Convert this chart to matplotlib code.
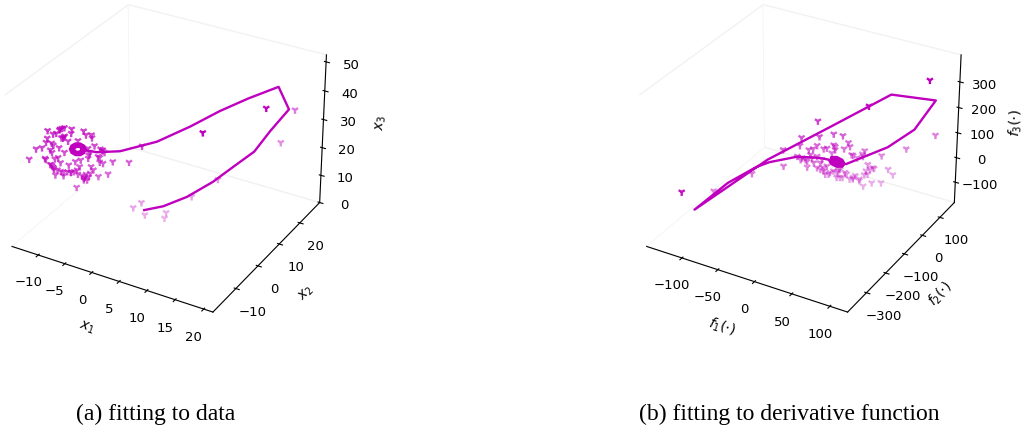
import matplotlib
matplotlib.use('Agg')
import matplotlib.pyplot as plt

# trajectory in state space, then the spiral onto the fixed point
line_x = [0.0, 2.5, 5.6, 9.0, 11.6, 14.6, 16.6, 19.2, 18.3, 15.0, 12.0, 8.3, 3.8, -1.5, -5.1, -6.8,
          -6.8, -6.99, -7.49, -8.11, -8.61, -8.8, -8.61, -8.11, -7.49, -6.99,
          -6.93, -7.09, -7.53, -8.07, -8.51, -8.68, -8.51, -8.07, -7.53, -7.09,
          -7.05, -7.19, -7.57, -8.03, -8.41, -8.55, -8.41, -8.03, -7.57, -7.19,
          -7.18, -7.29, -7.61, -7.99, -8.31, -8.43, -8.31, -7.99, -7.61, -7.29,
          -7.33, -7.42, -7.65, -7.95, -8.18, -8.28, -8.18, -7.95, -7.65, -7.42]
line_y = [2.0, 4.5, 7.6, 11.0, 13.6, 15.6, 17.6, 19.2, 16.3, 11.0, 6.0, 2.3, -1.2, -4.5, -6.1, -6.8,
          -6.8, -6.99, -7.49, -8.11, -8.61, -8.8, -8.61, -8.11, -7.49, -6.99,
          -6.93, -7.09, -7.53, -8.07, -8.51, -8.68, -8.51, -8.07, -7.53, -7.09,
          -7.05, -7.19, -7.57, -8.03, -8.41, -8.55, -8.41, -8.03, -7.57, -7.19,
          -7.18, -7.29, -7.61, -7.99, -8.31, -8.43, -8.31, -7.99, -7.61, -7.29,
          -7.33, -7.42, -7.65, -7.95, -8.18, -8.28, -8.18, -7.95, -7.65, -7.42]
line_z = [5.4, 6.4, 9.3, 14.2, 19.1, 24.8, 31.7, 39.5, 48.6, 46.4, 43.9, 39.2, 34.0, 30.1, 28.9, 29.1,
          29.45, 30.7, 31.54, 31.65, 30.95, 29.75, 28.5, 27.65, 27.55, 28.25,
          29.47, 30.57, 31.28, 31.36, 30.77, 29.73, 28.63, 27.92, 27.82, 28.43,
          29.5, 30.45, 31.06, 31.13, 30.62, 29.7, 28.76, 28.13, 28.07, 28.59,
          29.52, 30.3, 30.8, 30.86, 30.43, 29.68, 28.91, 28.4, 28.34, 28.78,
          29.55, 30.15, 30.47, 30.47, 30.15, 29.65, 29.1, 28.75, 28.73, 29.05]

# noisy samples in state space
data_x = [-11.55, -10.88, -10.47, -10.05, -9.72, -9.42, -8.51, -8.59, -7.01, -6.72, -6.01, -5.97,
          -11.63, -9.84, -9.42, -9.63, -11.8, -11.09, -10.88, -9.01, -7.76,
          -13.09, -12.34, -11.3, -11.09, -10.17, -9.51, -6.51, -5.67, -6.3, -4.92, -4.63, -4.42,
          -14.01, -12.01, -11.92, -10.76, -10.34, -10.05, -8.17, -7.47, -6.51, -5.26, -5.05, -4.63, -3.38, -1.3,
          -11.38, -11.09, -10.88, -10.47, -9.01, -10.05, -9.72, -9.22, -8.8, -8.38, -7.97, -7.63, -6.17, -5.88,
          -10.76, -9.72, -7.88, -7.34, -7.13, -6.84, -6.51, -6.3, -5.26, -4.01, -6.72, -7.13, -8.09,
          -9.97, -9.55, -5.05, -11.22, -10.97, -8.72, -7.01, -6.42, -4.72,
          1.0, 12.2, 19.5, 18.42, 16.7, 8.8, 5.35, -2.36, -1.27, -0.84, 1.98, 1.76]
data_y = data_x[:83] + [-1.0, -1.8, 7.5, 24.42, 22.7, 13.8, 10.35, 2.64, 3.73, 4.16, 6.98, 6.76]
data_z = [36.6, 35.3, 35.5, 36.6, 37.1, 37.3, 36.7, 35.2, 35.8, 34.4, 34.3, 33.3, 34.0, 33.9, 34.4, 33.7,
          32.6, 32.2, 31.5, 32.6, 32.6, 30.5, 30.8, 29.9, 29.0, 30.5, 28.8, 29.7, 30.5, 28.3, 29.3, 28.9,
          28.0, 27.1, 27.1, 26.7, 26.7, 27.1, 25.3, 25.4, 25.8, 26.3, 26.7, 24.7, 24.2, 24.6, 24.1, 24.9,
          24.1, 23.1, 22.8, 24.3, 22.2, 21.9, 22.0, 21.7, 21.9, 22.4, 23.5, 23.3, 22.1, 21.1, 20.7, 20.9,
          20.2, 19.4, 20.7, 19.8, 21.0, 19.7, 20.4, 18.7, 18.8, 16.3, 36.9, 34.1, 26.3, 24.7, 23.7, 21.7,
          19.7, 27.4, 28.6, 30.8, 42.0, 47.8, 35.4, 24.2, 12.9, 7.2, 4.4, 6.1, 1.5, 1.9, -0.1]

# same trajectory through the fitted derivative function
deriv_x = [13, 53.3, 79.2, 99.2, 55.6, -3.2, -64.5, -93.6, -137.2, -103.9, -75.8, -62.9, -35.5, -12.9, -4.8,
           -4.45, -2.18, 3.3, 8.78, 11.05, 8.78, 3.3, -2.18,
           -2.84, -1.04, 3.3, 7.64, 9.44, 7.64, 3.3, -1.04,
           -1.22, 0.1, 3.3, 6.5, 7.82, 6.5, 3.3, 0.1,
           0.39, 1.25, 3.3, 5.35, 6.21, 5.35, 3.3, 1.25,
           2.01, 2.39, 3.3, 4.21, 4.59, 4.21, 3.3, 2.39]
deriv_y = [20.2, 83, 123.2, 154.3, 86.5, -5, -100.3, -145.5, -213.3, -161.6, -117.9, -97.8, -55.1, -20, -7.4,
           -6.95, -3.42, 5.1, 13.62, 17.15, 13.62, 5.1, -3.42,
           -4.44, -1.65, 5.1, 11.85, 14.64, 11.85, 5.1, -1.65,
           -1.93, 0.13, 5.1, 10.07, 12.13, 10.07, 5.1, 0.13,
           0.58, 1.9, 5.1, 8.3, 9.62, 8.3, 5.1, 1.9,
           3.09, 3.68, 5.1, 6.52, 7.11, 6.52, 5.1, 3.68]
deriv_z = [-4.5, 53.2, 118, 228.7, 260.7, 147, 30, -44.5, -156.4, -55.2, 2.5, 19.3, 35.3, 24.9, 16.5,
           15.2, -1.36, -13.89, -14.97, -4, 12.56, 25.09, 26.17,
           13.2, 0.09, -9.83, -10.68, -2, 11.11, 21.03, 21.88,
           11.2, 1.54, -5.77, -6.4, 0, 9.66, 16.97, 17.6,
           9.2, 2.99, -1.71, -2.11, 2, 8.21, 12.91, 13.31,
           7.2, 4.44, 2.35, 2.17, 4, 6.76, 8.85, 9.03]

# noisy derivative samples
noisy_x = [-124.3, -117.8, -80, -49, -49.3, -31.3, -32.9, -15.4, -13.8, 0.1, 9.1, 14.6, 44.5, 100.5, 100.2, 71.7,
           47.5, 54.3, 59.1, 47.5, 38.2, 29.8, 19.4, 21.7, 30.7, 34, 40.4, 36.2, 32.3, 30.7, 28.5, 19.4, 23.3,
           16.2, 10.4, 1.7, -6.4, -9.6, -16.1, -20, -24.2, 0.1, 3.3, 6.5, 13, 16.2, 25.9, -3.2, -9.6, -16.1,
           -25.8, -30.6, -20.9, -12.9, -6.4, -11.3, -25.8, -16.1, -1.6, 4.9, 9.1, -4.8, -19.3, -32.2, -27.4,
           19.4, 25.9, 34, 38.8, -9.6, 3.3, -8, 11.4, -12.9, 0.1, -22.5, -35.5, 29.1, 1.7, 6.5, 17.8]
noisy_y = [-309.4, -183.2, -124.4, -76.2, -76.7, -48.6, -51.1, -24, -21.5, 0.1, 14.2, 22.7, 11, 109.8, 155.8, 111.6,
           73.9, 84.5, 92, 73.9, 59.4, 46.3, 30.2, 33.8, 47.8, 52.8, 62.9, 56.4, 50.3, 47.8, 44.3, 30.2, 36.3,
           25.2, 16.2, 2.6, -10, -15, -25, -31, -37.6, 0.1, 5.1, 10.2, 20.2, 25.2, 40.3, -5, -15, -25,
           -40.1, -47.6, -32.5, -20, -10, -17.5, -40.1, -25, -2.4, 7.6, 14.2, -7.4, -30, -50.1, -42.6,
           30.2, 40.3, 52.8, 60.4, -15, 5.1, -12.4, 17.7, -20, 0.1, -35, -55.1, 45.3, 2.6, 10.2, 27.7]
noisy_z = [-5.1, -84.8, -22.8, 0.4, 65.9, 110.2, 79.2, 172.1, 110.3, 117.5, 109, 80.2, 255.2, 335.8, 91, 42.4,
           20.4, -36.1, -59.5, -89.5, -87.4, -98.6, -67.5, -54.9, -53, -11.9, -29, -32, -37.7, 43.9, 31.3, 28.1, 16.8,
           64.2, 56.3, 67.5, 62.7, 60.8, 75.4, 63.1, 60.2, 74.3, -37.6, -58, -46.4, -66.7, -75.4, -36.2, -28.2, -13.6,
           14.8, 29, 26.8, 5.2, -9.2, 18, -8.8, 32.2, 42, -31.5, -58.6, -42.4, 6.7, 22.7, 21.6,
           -61, -68.9, -51.2, -26.1, -15.1, -57.3, -41.7, -39.4, -20.9, -30.4, 40.2, 36.6, 21.9, 54.4, -25.2, 31.1]


def setup(pos, xl, yl, zl, xt, yt, zt, labels):
    ax = fig.add_axes(pos, projection='3d')
    ax.view_init(elev=30, azim=-60)
    ax.set_xlim(xl)
    ax.set_ylim(yl)
    ax.set_zlim(zl)
    ax.set_xticks(xt)
    ax.set_yticks(yt)
    ax.set_zticks(zt)
    ax.set_xlabel(labels[0], labelpad=4, fontsize=10)
    ax.set_ylabel(labels[1], labelpad=4, fontsize=10)
    ax.set_zlabel(labels[2], labelpad=5, fontsize=10)
    ax.grid(False)
    for a in (ax.xaxis, ax.yaxis, ax.zaxis):
        a.set_pane_color((1, 1, 1, 1))
        a.pane.set_edgecolor((0.95, 0.95, 0.95))
        a.set_tick_params(pad=3, labelsize=9.5)
    return ax


fig = plt.figure(figsize=(10.26, 4.34), dpi=100)
ax1 = setup([-0.0146, 0.226, 0.3486, 0.83], (-15, 21.6), (-20, 30), (0, 52.4),
            [-10, -5, 0, 5, 10, 15, 20], [-10, 0, 10, 20], [0, 10, 20, 30, 40, 50],
            ['$x_1$', '$x_2$', '$x_3$'])
ax1.plot(line_x, line_y, line_z, color='m', lw=1.7)
ax1.scatter(data_x, data_y, data_z, color='m', marker='1', s=30, lw=1.7)

ax2 = setup([0.604, 0.226, 0.3486, 0.83], (-150, 123), (-395, 185), (-184, 404),
            [-100, -50, 0, 50, 100], [-300, -200, -100, 0, 100], [-100, 0, 100, 200, 300],
            ['$f_1(\\cdot)$', '$f_2(\\cdot)$', '$f_3(\\cdot)$'])
ax2.plot(deriv_x, deriv_y, deriv_z, color='m', lw=1.7)
ax2.scatter(noisy_x, noisy_y, noisy_z, color='m', marker='1', s=30, lw=1.7)

fig.text(0.1515, 0.032, '(a) fitting to data', family='Liberation Serif', fontsize=17, ha='center')
fig.text(0.7695, 0.032, '(b) fitting to derivative function', family='Liberation Serif', fontsize=17, ha='center')
fig.savefig('out.png', dpi=100)
